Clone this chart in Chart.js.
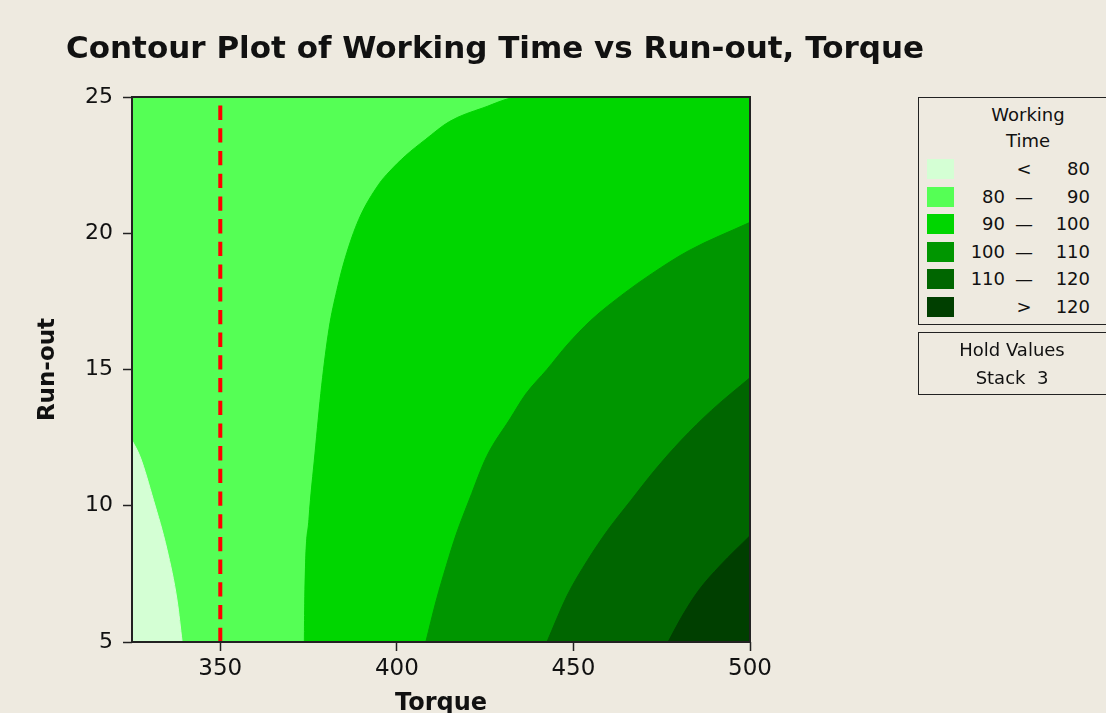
<!DOCTYPE html>
<html>
<head>
<meta charset="utf-8">
<script src="https://cdn.jsdelivr.net/npm/chart.js@4.4.1/dist/chart.umd.min.js"></script>
<style>
    html, body { margin: 0; padding: 0; background: #EEEAE0; overflow: hidden; }
    #wrap { position: relative; width: 1106px; height: 713px; overflow: hidden;
            font-family: 'DejaVu Sans', sans-serif; color: #111; }
    #chart { position: absolute; left: 0; top: 0; }
    #title { position: absolute; left: 66px; top: 32px; font-weight: bold; font-size: 31px;
             line-height: 1; white-space: nowrap; }
    .box { position: absolute; left: 918px; width: 230px; box-sizing: border-box;
           border: 1px solid #222; background: #EEEAE0; }
    .t { position: absolute; font-size: 18px; line-height: 20px; white-space: nowrap; }
    .c { text-align: center; width: 200px; }
    .r { text-align: right; width: 60px; }
    .sw { position: absolute; left: 8px; width: 27px; height: 20px; }
</style>
</head>
<body>
<div id="wrap">
    <canvas id="chart" width="1106" height="713"></canvas>
    <div id="title">Contour Plot of Working Time vs Run-out, Torque</div>
    <div class="box" id="legend" style="top:97px;height:228px;"></div>
    <div class="box" id="hold" style="top:332px;height:63px;"></div>
</div>
<script>
// ── Axes ──
const torqueMin = 325, torqueMax = 500;
const runoutMin = 5, runoutMax = 25;
const torqueTicks = [350, 400, 450, 500];
const runoutTicks = [5, 10, 15, 20, 25];
const holdTorque = 350;

// ── Contour edges (Torque, Run-out) ──
// region below/right of each edge is the next level up
const edge80T  = [325, 327.3, 331.1, 334.9, 337.8, 339.2];
const edge80R  = [12.4, 11.8, 10.2, 8.4, 6.5, 5];

const edge90T  = [373.8, 373.9, 375.1, 376.8, 378.7, 380.8, 383.0, 385.4, 389.2, 394.9, 397.8, 402.5, 408.2, 414.9, 424.4, 434.9, 500];
const edge90R  = [5, 6.4, 9.5, 11.9, 14.4, 16.5, 17.9, 19.1, 20.5, 21.8, 22.25, 22.85, 23.45, 24.1, 24.6, 25, 25];

const edge100T = [408.2, 411.1, 414.0, 416.8, 420.6, 425.4, 432.1, 436.5, 442.5, 448.2, 454.9, 464.4, 472.0, 482.5, 500];
const edge100R = [5, 6.5, 7.8, 8.95, 10.25, 11.8, 13.2, 14.1, 15.0, 15.9, 16.8, 17.8, 18.5, 19.35, 20.4];

const edge110T = [442.5, 448.2, 454.0, 459.7, 466.3, 473.0, 480.5, 489.1, 500];
const edge110R = [5, 6.7, 8.0, 9.1, 10.2, 11.3, 12.4, 13.5, 14.7];

const edge120T = [476.8, 481.0, 485.5, 491.5, 500];
const edge120R = [5, 6.0, 6.9, 7.8, 8.9];

// ── Legend ──
const levelColors = ['#D4FFD4', '#55FF55', '#00D600', '#009600', '#006600', '#003F00'];
const legendLow   = ['', '80', '90', '100', '110', ''];
const legendSign  = ['<', '\u2014', '\u2014', '\u2014', '\u2014', '>'];
const legendHigh  = ['80', '90', '100', '110', '120', '120'];
const holdLabel   = 'Stack\u00a0\u00a03';

const pts = (T, R) => T.map((t, i) => ({ x: t, y: R[i] }));

function region(T, R, color) {
    return {
        data: pts(T, R),
        fill: 'start',
        backgroundColor: color,
        borderColor: color,
        borderWidth: 1,
        pointRadius: 0,
        cubicInterpolationMode: 'monotone',
    };
}

// ── Plot frame ──
const framePlugin = {
    id: 'frame',
    afterDatasetsDraw(chart) {
        const { ctx, chartArea: a } = chart;
        ctx.save();
        ctx.strokeStyle = '#222';
        ctx.lineWidth = 2;
        ctx.strokeRect(a.left, a.top, a.right - a.left, a.bottom - a.top);
        ctx.restore();
    }
};

const ctx = document.getElementById('chart').getContext('2d');
new Chart(ctx, {
    type: 'line',
    data: {
        datasets: [
            {
                data: [{ x: holdTorque, y: runoutMin }, { x: holdTorque, y: runoutMax }],
                borderColor: '#FF0000',
                borderWidth: 4,
                borderDash: [14.3, 8.4],
                borderCapStyle: 'butt',
                pointRadius: 0,
                fill: false,
            },
            region(edge120T, edge120R, levelColors[5]),
            region(edge110T, edge110R, levelColors[4]),
            region(edge100T, edge100R, levelColors[3]),
            region(edge90T, edge90R, levelColors[2]),
            region(edge80T, edge80R, levelColors[0]),
            region([torqueMin, torqueMax], [runoutMax, runoutMax], levelColors[1]),
        ]
    },
    options: {
        responsive: false,
        animation: false,
        layout: { padding: { top: 97, left: 0, right: 356, bottom: 0 } },
        plugins: { legend: { display: false }, tooltip: { enabled: false } },
        scales: {
            x: {
                type: 'linear',
                min: torqueMin,
                max: torqueMax,
                afterBuildTicks: s => { s.ticks = torqueTicks.map(v => ({ value: v })); },
                afterFit: s => { s.height = 71; },
                border: { display: false },
                grid: { drawOnChartArea: false, drawTicks: true, tickLength: 9, tickColor: '#222', tickWidth: 1.5 },
                ticks: { color: '#111', padding: 4, maxRotation: 0, font: { family: 'DejaVu Sans', size: 23 } },
                title: {
                    display: true, text: 'Torque', color: '#111',
                    padding: 0,
                    font: { family: 'DejaVu Sans', size: 24, weight: 'bold', lineHeight: 0.8 }
                }
            },
            y: {
                type: 'linear',
                min: runoutMin,
                max: runoutMax,
                afterBuildTicks: s => { s.ticks = runoutTicks.map(v => ({ value: v })); },
                afterFit: s => { s.width = 132; },
                border: { display: false },
                grid: { drawOnChartArea: false, drawTicks: true, tickLength: 9, tickColor: '#222', tickWidth: 1.5 },
                ticks: { color: '#111', padding: 10, font: { family: 'DejaVu Sans', size: 22 } },
                title: {
                    display: true, text: 'Run-out', color: '#111',
                    padding: { top: 34, bottom: 0 },
                    font: { family: 'DejaVu Sans', size: 23, weight: 'bold' }
                }
            }
        }
    },
    plugins: [framePlugin]
});

// ── Legend boxes ──
function addText(parent, text, cls, left, top) {
    const el = document.createElement('div');
    el.className = 't ' + cls;
    el.style.left = left + 'px';
    el.style.top = top + 'px';
    el.textContent = text;
    parent.appendChild(el);
}

const legend = document.getElementById('legend');
addText(legend, 'Working', 'c', 9, 7);
addText(legend, 'Time', 'c', 9, 33);
levelColors.forEach((color, i) => {
    const top = 61 + 27.5 * i;
    const sw = document.createElement('div');
    sw.className = 'sw';
    sw.style.top = top + 'px';
    sw.style.background = color;
    legend.appendChild(sw);
    addText(legend, legendLow[i], 'r', 26, top);
    addText(legend, legendSign[i], 'c', 5, top);
    addText(legend, legendHigh[i], 'r', 111, top);
});

const hold = document.getElementById('hold');
addText(hold, 'Hold Values', 'c', -7, 7);
addText(hold, holdLabel, 'c', -7, 35);
</script>
</body>
</html>
